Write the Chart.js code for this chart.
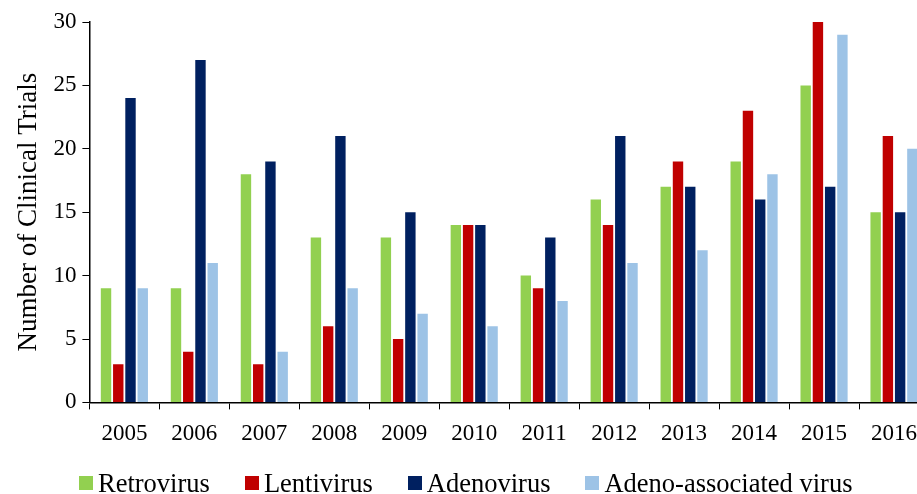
<!DOCTYPE html>
<html>
<head>
<meta charset="utf-8">
<script src="https://cdn.jsdelivr.net/npm/chart.js@4"></script>
<style>
  html, body { margin: 0; padding: 0; background: #fff; overflow: hidden; }
  #wrap { position: relative; width: 930px; height: 494px; }
  #legend {
    position: absolute; left: 79px; top: 470px;
    display: flex; gap: 35px;
    font-family: 'Liberation Serif', 'Times New Roman', serif;
    font-size: 26.5px; line-height: 26.5px; color: #000;
  }
  .item { display: flex; align-items: center; gap: 5px; white-space: nowrap; }
  .box { width: 14px; height: 14px; }
</style>
</head>
<body>
<div id="wrap">
  <canvas id="chart"></canvas>
  <div id="legend"></div>
</div>
<script>
const years = ["2005", "2006", "2007", "2008", "2009", "2010", "2011", "2012", "2013", "2014", "2015", "2016"];
const retrovirus = [9, 9, 18, 13, 13, 14, 10, 16, 17, 19, 25, 15];
const lentivirus = [3, 4, 3, 6, 5, 14, 9, 14, 19, 23, 30, 21];
const adenovirus = [24, 27, 19, 21, 15, 14, 13, 21, 17, 16, 17, 15];
const aav = [9, 11, 4, 9, 7, 6, 8, 11, 12, 18, 29, 20];
const yTicks = [0, 5, 10, 15, 20, 25, 30];

Chart.defaults.font.family = "'Liberation Serif', 'Times New Roman', serif";
Chart.defaults.font.size = 23;
Chart.defaults.color = "#000";

function makeSet(label, data, color) {
    return {
        label: label,
        data: data,
        backgroundColor: color,
        borderWidth: 0,
        categoryPercentage: 0.7,
        barPercentage: 0.85,
    };
}

const canvas = document.getElementById("chart");
const chart = new Chart(canvas.getContext("2d"), {
    type: "bar",
    data: {
        labels: years,
        datasets: [
            makeSet("Retrovirus", retrovirus, "#92D050"),
            makeSet("Lentivirus", lentivirus, "#C00000"),
            makeSet("Adenovirus", adenovirus, "#002060"),
            makeSet("Adeno-associated virus", aav, "#9DC3E6"),
        ],
    },
    options: {
        responsive: true,
        maintainAspectRatio: false,
        animation: false,
        layout: { padding: { top: 22, right: 1, left: 9, bottom: 35 } },
        plugins: {
            legend: { display: false },
            tooltip: { enabled: false },
        },
        scales: {
            x: {
                grid: {
                    offset: true,
                    drawOnChartArea: false,
                    color: "#000",
                    tickLength: 7,
                    tickColor: "#000",
                },
                border: { color: "#000", width: 1.5 },
                ticks: { padding: 11, maxRotation: 0 },
            },
            y: {
                min: 0,
                max: 30,
                afterBuildTicks: (axis) => { axis.ticks = yTicks.map((v) => ({ value: v })); },
                grid: {
                    drawOnChartArea: false,
                    tickLength: 7,
                    tickColor: "#000",
                },
                border: { color: "#000", width: 1.5 },
                ticks: { padding: 6 },
                title: {
                    display: true,
                    text: "Number of Clinical Trials",
                    font: { size: 27 },
                    padding: { bottom: 2 },
                },
            },
        },
    },
});

// legend built from the datasets, laid out like the original
const legend = document.getElementById("legend");
chart.data.datasets.forEach((ds) => {
    const item = document.createElement("div");
    item.className = "item";
    const box = document.createElement("span");
    box.className = "box";
    box.style.background = ds.backgroundColor;
    const text = document.createElement("span");
    text.textContent = ds.label;
    item.appendChild(box);
    item.appendChild(text);
    legend.appendChild(item);
});
</script>
</body>
</html>
